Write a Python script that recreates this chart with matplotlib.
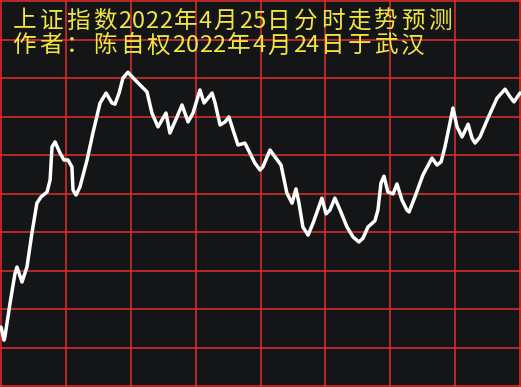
import matplotlib

matplotlib.use("Agg")
import matplotlib.pyplot as plt

# minutes since open (0-240) and level as % of the panel height (0-100)
minutes = [
    0.0, 1.4, 1.8, 4.2, 6.5, 7.4, 9.7, 12.0, 14.3, 16.6, 18.5, 21.3, 22.7, 23.6,
    25.0, 27.3, 29.1, 31.0, 32.8, 33.3, 34.7, 36.5, 39.8, 42.5, 45.8, 48.6, 51.3,
    52.7, 54.6, 56.4, 58.7, 62.0, 65.7, 67.5, 69.8, 72.6, 76.3, 78.1, 81.4, 83.7,
    86.5, 88.8, 92.0, 93.9, 97.6, 99.0, 101.3, 103.6, 105.4, 107.3, 109.6, 112.8,
    115.1, 117.4, 119.8, 121.1, 124.4, 126.7, 129.5, 132.2, 134.6, 136.4, 137.8,
    139.6, 142.0, 144.3, 148.4, 150.3, 152.1, 154.4, 156.8, 160.0, 162.8, 165.5,
    167.4, 169.7, 172.9, 174.3, 175.7, 177.1, 178.9, 181.3, 183.1, 185.4, 187.7,
    188.7, 191.4, 195.1, 199.3, 201.6, 203.5, 205.3, 207.6, 209.0, 210.9, 213.2,
    216.0, 217.8, 219.2, 221.5, 225.2, 229.4, 233.1, 235.4, 237.2, 240.0,
]
levels = [
    15.3, 11.9, 12.7, 21.6, 29.3, 30.9, 27.0, 30.9, 39.7, 47.5, 49.1, 50.4, 53.5, 62.1,
    63.4, 60.5, 58.7, 58.7, 56.9, 50.9, 49.6, 51.7, 58.7, 65.7, 73.5, 76.1, 73.5,
    73.2, 76.1, 80.0, 81.5, 79.5, 77.4, 76.4, 70.9, 67.3, 70.9, 65.7, 69.9, 73.0,
    68.6, 70.9, 76.9, 73.5, 76.1, 73.5, 67.8, 68.6, 69.9, 66.5, 62.6, 63.1,
    60.5, 57.9, 56.1, 56.9, 61.3, 59.5, 57.4, 50.1, 47.5, 51.2, 47.5,
    41.3, 39.2, 42.3, 48.8, 44.7, 45.7, 48.8, 45.7, 41.3, 38.7, 37.4,
    38.4, 41.3, 42.9, 45.7, 52.7, 54.5, 50.4, 49.9, 52.5, 48.3, 45.7,
    45.2, 49.1, 54.8, 59.2, 57.4, 58.2, 62.1, 68.3, 72.2, 67.3, 64.7,
    68.0, 64.4, 63.1, 64.7, 69.6, 74.8, 77.1, 75.1, 73.8, 76.1,
]

title_lines = [
    "上证指数2022年4月25日分时走势预测",
    "作者：陈自权2022年4月24日于武汉",
]

W, H = 521, 387
BG = "#141517"
RED = "#e0302c"
YELLOW = "#f2e63c"

fig = plt.figure(figsize=(W / 100, H / 100), dpi=100, facecolor=BG)
ax = fig.add_axes([0, 0, 1, 1], facecolor=BG)

ax.plot(minutes, levels, color="white", lw=2.5, solid_joinstyle="round",
        solid_capstyle="round", zorder=3)

ax.set_xlim(-240 / 519, 520 / 519 * 240)
ax.set_ylim(-100 / 385, 386 / 385 * 100)
ax.set_xticks(range(0, 241, 30))
ax.set_yticks(range(0, 101, 10))
ax.grid(True, color=RED, lw=1.1)
ax.tick_params(length=0, labelbottom=False, labelleft=False)
for spine in ax.spines.values():
    spine.set_visible(False)

# monospaced-style title: full-width glyphs take 2 slots, ascii takes 1
half = 13.4
for line, y_px in zip(title_lines, [21, 46]):
    x_px = 13
    for ch in line:
        step = half if ch.isascii() else 2 * half
        fig.text((x_px + step / 2 - 2) / W, 1 - y_px / H, ch, color=YELLOW,
                 fontsize=17, ha="center", va="center",
                 family=["Noto Sans CJK SC", "DejaVu Sans"], zorder=5)
        x_px += step

fig.savefig("out.png", dpi=100, facecolor=BG)
